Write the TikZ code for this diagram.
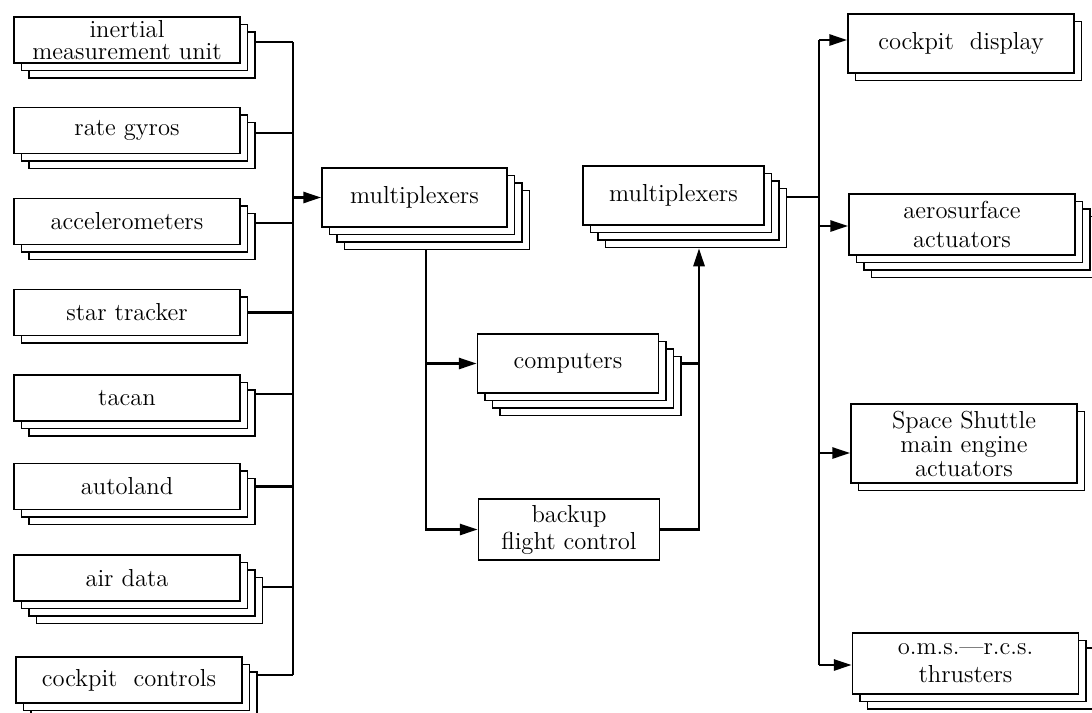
\documentclass[tikz,border=0pt]{standalone}
\usetikzlibrary{arrows.meta,shadows}

\tikzset{
  unit/.style={draw, fill=white, line width=0.75pt, align=center, inner sep=0pt,
    minimum width=113pt, minimum height=23pt, font=\fontsize{12.3}{13.5}\selectfont},
  mid/.style={unit, minimum width=90.5pt, minimum height=29.5pt},
  layer/.style={general shadow={shadow xshift=#1, shadow yshift=-#1, draw, fill=white, line width=0.75pt}},
  two/.style={layer=3.75pt},
  three/.style={layer=7.5pt, layer=3.75pt},
  four/.style={layer=11.25pt, layer=7.5pt, layer=3.75pt},
  link/.style={line width=1.4pt},
  feed/.style={link, -{Triangle[length=9pt, width=5.5pt]}}
}

\begin{document}
\begin{tikzpicture}[x=0.5pt, y=-0.5pt]
	\useasboundingbox (0,0) rectangle (1092,712);
	\coordinate (busL) at (293,0);
	\coordinate (busR) at (819,0);

	% sensors
	\node[unit, three] (imu) at (127,40) {inertial\\[-2.5pt] measurement unit};
	\node[unit, three] (gyros) at (127,130.5) {rate gyros};
	\node[unit, three] (accel) at (127,221.5) {accelerometers};
	\node[unit, two] (star) at (127,312.5) {star tracker};
	\node[unit, three] (tacan) at (127,398) {tacan};
	\node[unit, three] (auto) at (127,486.5) {autoland};
	\node[unit, four] (air) at (127,578) {air data};
	\node[unit, three] (ctrl) at (129,680) {cockpit~ controls};

	% middle part
	\node[mid, four, minimum width=92.5pt] (mux1) at (414.5,197.5) {multiplexers};
	\node[mid, four] (mux2) at (673.5,195.5) {multiplexers};
	\node[mid, four] (comp) at (568,363.5) {computers};
	\node[mid, minimum height=30.5pt] (backup) at (569,529.5) {backup\\ flight control};

	% effectors
	\node[unit, two, minimum height=29.5pt] (disp) at (961,43.5) {cockpit~ display};
	\node[unit, four, minimum height=30.5pt] (aero) at (962,224.5) {aerosurface\\[1pt] actuators};
	\node[unit, two, minimum height=39.5pt] (ssme) at (964,443.5) {Space Shuttle\\[-1.5pt] main engine\\[-1.5pt] actuators};
	\node[unit, three, minimum height=30.5pt] (oms) at (965.5,663.5) {o.m.s.---r.c.s.\\[0.5pt] thrusters};

	% inputs onto the left bus
	\foreach \n/\k/\dy in {imu/3/-1, gyros/3/-1.25, accel/3/-0.75, star/2/0, tacan/3/2, auto/3/0, air/4/-4.5, ctrl/3/2.5}{
		\coordinate (j\n) at ([yshift=\dy pt]\n.east);
		\draw[link] ([xshift={(\k-1)*3.75pt}]j\n) -- (j\n -| busL);
	}
	\draw[link] (jimu -| busL) -- (jctrl -| busL);
	\draw[feed] (mux1.west -| busL) -- (mux1.west);

	% through the computers
	\coordinate (down) at ([xshift=5.75pt, yshift=-11.25pt]mux1.south);
	\coordinate (up) at ([xshift=12.75pt, yshift=-11.25pt]mux2.south);
	\draw[feed] (down) |- (comp.west);
	\draw[feed] (down) |- (backup.west);
	\draw[link] ([xshift=11.25pt]comp.east) -- (comp.east -| up);
	\draw[feed] (backup.east) -| (up);

	% outputs from the right bus
	\coordinate (jout) at ([yshift=-0.75pt]mux2.east);
	\draw[link] ([xshift=11.25pt]jout) -- (jout -| busR);
	\foreach \n/\dy in {disp/1.75, aero/-0.75, ssme/-4.75, oms/-0.75}{
		\coordinate (j\n) at ([yshift=\dy pt]\n.west);
		\draw[feed] (j\n -| busR) -- (j\n);
	}
	\draw[link] (jdisp -| busR) -- (joms -| busR);
\end{tikzpicture}
\end{document}
